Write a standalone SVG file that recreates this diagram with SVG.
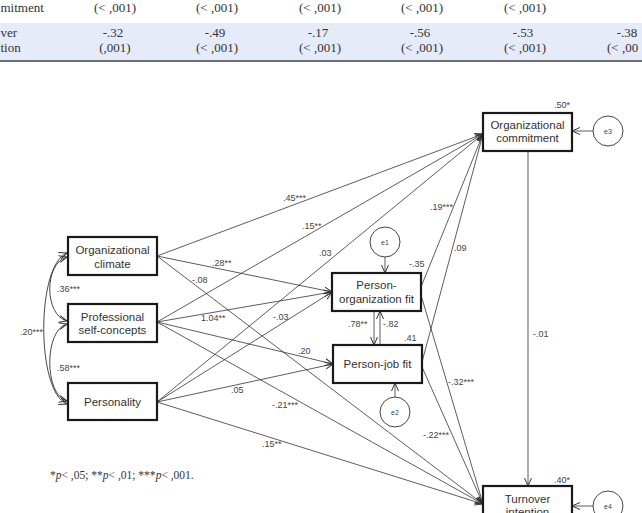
<svg xmlns="http://www.w3.org/2000/svg" width="642" height="513" viewBox="0 0 642 513">
<defs>
<marker id="arr" markerUnits="userSpaceOnUse" markerWidth="10" markerHeight="8" refX="8" refY="4" orient="auto-start-reverse">
<path d="M0,0.5 L8,4 L0,7.5" fill="none" stroke="#333" stroke-width="1"/>
</marker>
<style>
.tb{font-family:"Liberation Serif","Times New Roman",serif;font-size:13px;fill:#333}
.tc{text-anchor:middle}
.box{fill:#fff;stroke:#1a1a1a;stroke-width:2.2}
.nt{font-family:"Liberation Sans",Arial,sans-serif;font-size:11.5px;fill:#333;text-anchor:middle}
.lb{font-family:"Liberation Sans",Arial,sans-serif;font-size:9px;fill:#444}
.el{fill:#fff;stroke:#444;stroke-width:1}
.et{font-family:"Liberation Sans",Arial,sans-serif;font-size:7px;fill:#444;text-anchor:middle}
.ln{fill:none;stroke:#333;stroke-width:0.8;marker-end:url(#arr)}
.cv{fill:none;stroke:#333;stroke-width:0.9;marker-end:url(#arr);marker-start:url(#arr)}
.fn{font-family:"Liberation Serif","Times New Roman",serif;font-size:11.5px;fill:#333}
</style>
</defs>
<rect width="642" height="513" fill="#fff"/>
<g id="table">
<rect x="0" y="23" width="642" height="37" fill="#e5ebf8"/>
<line x1="0" y1="61" x2="642" y2="61" stroke="#6a6d7e" stroke-width="2"/>
<text class="tb" x="0.5" y="11.5">mitment</text>
<text class="tb tc" x="115" y="11.5">(&lt; ,001)</text>
<text class="tb tc" x="217" y="11.5">(&lt; ,001)</text>
<text class="tb tc" x="320" y="11.5">(&lt; ,001)</text>
<text class="tb tc" x="422" y="11.5">(&lt; ,001)</text>
<text class="tb tc" x="525" y="11.5">(&lt; ,001)</text>
<text class="tb" x="0.5" y="37">ver</text>
<text class="tb" x="0.5" y="52">tion</text>
<text class="tb tc" x="113" y="37">-.32</text>
<text class="tb tc" x="115" y="52">(,001)</text>
<text class="tb tc" x="215" y="37">-.49</text>
<text class="tb tc" x="217" y="52">(&lt; ,001)</text>
<text class="tb tc" x="318" y="37">-.17</text>
<text class="tb tc" x="320" y="52">(&lt; ,001)</text>
<text class="tb tc" x="420" y="37">-.56</text>
<text class="tb tc" x="422" y="52">(&lt; ,001)</text>
<text class="tb tc" x="523" y="37">-.53</text>
<text class="tb tc" x="525" y="52">(&lt; ,001)</text>
<text class="tb tc" x="627" y="37">-.38</text>
<text class="tb" x="607" y="52">(&lt; ,00</text>
</g>
<g id="connectors">
<line class="ln" x1="157" y1="256" x2="483" y2="134"/>
<line class="ln" x1="157" y1="322" x2="483" y2="134"/>
<line class="ln" x1="157" y1="402" x2="483" y2="134"/>
<line class="ln" x1="421" y1="287" x2="483" y2="134"/>
<line class="ln" x1="422" y1="362" x2="483" y2="134"/>
<line class="ln" x1="157" y1="256" x2="483" y2="504"/>
<line class="ln" x1="157" y1="322" x2="483" y2="504"/>
<line class="ln" x1="157" y1="402" x2="483" y2="504"/>
<line class="ln" x1="421" y1="295" x2="483" y2="504"/>
<line class="ln" x1="422" y1="367" x2="483" y2="504"/>
<line class="ln" x1="157" y1="256" x2="332" y2="292"/>
<line class="ln" x1="157" y1="322" x2="332" y2="292"/>
<line class="ln" x1="157" y1="402" x2="332" y2="292"/>
<line class="ln" x1="157" y1="322" x2="333" y2="364"/>
<line class="ln" x1="157" y1="402" x2="333" y2="364"/>
<line class="ln" x1="374" y1="311" x2="374" y2="345"/>
<line class="ln" x1="380" y1="345" x2="380" y2="311"/>
<line class="ln" x1="528" y1="151" x2="528" y2="486"/>
<line class="ln" x1="385" y1="257" x2="385" y2="273"/>
<line class="ln" x1="395" y1="397" x2="395" y2="383"/>
<line class="ln" x1="593" y1="131" x2="572" y2="131"/>
<line class="ln" x1="593" y1="506" x2="572" y2="506"/>
<path class="cv" d="M67,257 C44,263 44,315 67,321"/>
<path class="cv" d="M67,324 C44,330 44,395 67,401"/>
<path class="cv" d="M67,253 C36,265 36,392 67,404"/>
</g>
<g id="labels">
<text class="lb" x="283" y="201">.45***</text>
<text class="lb" x="302" y="229">.15**</text>
<text class="lb" x="319" y="256">.03</text>
<text class="lb" x="212" y="266">.28**</text>
<text class="lb" x="192" y="283">-.08</text>
<text class="lb" x="201" y="321">1.04**</text>
<text class="lb" x="273" y="320">-.03</text>
<text class="lb" x="298" y="354">.20</text>
<text class="lb" x="231" y="393">.05</text>
<text class="lb" x="272" y="408">-.21***</text>
<text class="lb" x="262" y="447">.15**</text>
<text class="lb" x="430" y="210">.19***</text>
<text class="lb" x="454" y="251">.09</text>
<text class="lb" x="409" y="267">-.35</text>
<text class="lb" x="404" y="341">.41</text>
<text class="lb" x="348" y="327">.78**</text>
<text class="lb" x="383" y="327">-.82</text>
<text class="lb" x="448" y="385">-.32***</text>
<text class="lb" x="423" y="438">-.22***</text>
<text class="lb" x="533" y="337">-.01</text>
<text class="lb" x="554" y="108">.50*</text>
<text class="lb" x="554" y="483">.40*</text>
<text class="lb" x="57" y="292">.36***</text>
<text class="lb" x="57" y="371">.58***</text>
<text class="lb" x="20" y="335">.20***</text>
</g>
<g id="n-orgclimate">
<rect class="box" x="68" y="237" width="89" height="38"/>
<text class="nt" x="112.5" y="254">Organizational</text>
<text class="nt" x="112.5" y="268">climate</text>
</g>
<g id="n-profself">
<rect class="box" x="68" y="304" width="89" height="38"/>
<text class="nt" x="112.5" y="321">Professional</text>
<text class="nt" x="112.5" y="334">self-concepts</text>
</g>
<g id="n-personality">
<rect class="box" x="68" y="383" width="89" height="37"/>
<text class="nt" x="112.5" y="406">Personality</text>
</g>
<g id="n-orgcommit">
<rect class="box" x="483" y="113" width="89" height="38"/>
<text class="nt" x="527.5" y="129">Organizational</text>
<text class="nt" x="527.5" y="142">commitment</text>
</g>
<g id="n-pofit">
<rect class="box" x="332" y="273" width="89" height="38"/>
<text class="nt" x="376.5" y="289">Person-</text>
<text class="nt" x="376.5" y="303">organization fit</text>
</g>
<g id="n-pjfit">
<rect class="box" x="333" y="345" width="89" height="38"/>
<text class="nt" x="377.5" y="368">Person-job fit</text>
</g>
<g id="n-turnover">
<rect class="box" x="483" y="486" width="89" height="38"/>
<text class="nt" x="527.5" y="503">Turnover</text>
<text class="nt" x="527.5" y="516">intention</text>
</g>
<g id="n-e1"><circle class="el" cx="385" cy="242" r="15"/><text class="et" x="385" y="245">e1</text></g>
<g id="n-e2"><circle class="el" cx="395" cy="412" r="15"/><text class="et" x="395" y="415">e2</text></g>
<g id="n-e3"><circle class="el" cx="608" cy="131" r="15"/><text class="et" x="608" y="134">e3</text></g>
<g id="n-e4"><circle class="el" cx="608" cy="506" r="15"/><text class="et" x="608" y="509">e4</text></g>
<text class="fn" x="50" y="479">*<tspan font-style="italic">p</tspan>&lt; ,05; **<tspan font-style="italic">p</tspan>&lt; ,01; ***<tspan font-style="italic">p</tspan>&lt; ,001.</text>
</svg>
